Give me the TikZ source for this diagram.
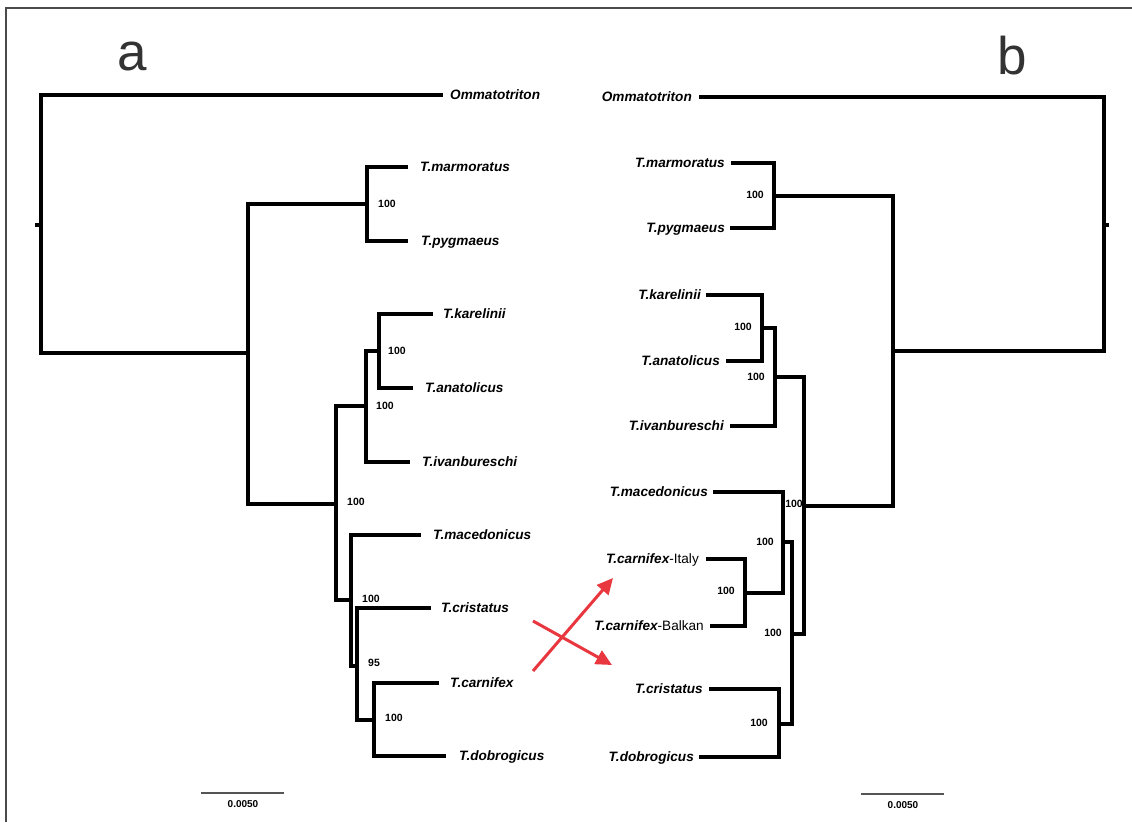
\documentclass[tikz,border=0pt]{standalone}
\usepackage{fontspec}
\setmainfont{Liberation Sans}
\usetikzlibrary{arrows.meta}
\definecolor{arrowred}{HTML}{E8373E}
\definecolor{framegray}{HTML}{4A4A4A}
\definecolor{lettergray}{HTML}{333333}
\definecolor{bargray}{HTML}{555555}
\begin{document}
\begin{tikzpicture}[x=1pt,y=-1pt,
  tree/.style={line width=3.8pt, line join=miter, black},
  taxon/.style={font=\fontsize{13.6}{16}\selectfont\bfseries\itshape, inner sep=0pt, text height=9.6pt, text depth=0pt},
  sup/.style={font=\fontsize{10.5}{12}\selectfont\bfseries, inner sep=0pt, text height=7.5pt, text depth=0pt},
  scalebar/.style={bargray, line width=1.5pt},
  scalelab/.style={font=\fontsize{10}{11}\selectfont\bfseries, inner sep=0pt, text height=7.2pt, text depth=0pt},
  panel/.style={font=\fontsize{53}{60}\selectfont, text=lettergray, inner sep=0pt, anchor=base west},
  redarrow/.style={arrowred, line width=3pt, -{Triangle[length=16pt,width=15pt]}}
]
\useasboundingbox (0,0) rectangle (1132,822);
\fill[white] (0,0) rectangle (1132,822);
% frame
\draw[framegray, line width=1.8pt] (6,822) -- (6,8) -- (1132,8);

% panel letters
\node[panel] (pa) at (117,70) {a};
\node[panel] (pb) at (997,74) {b};

% ---------------- tree a ----------------
\coordinate (aTick) at (35,225);
\coordinate (aR) at (41,225);
\coordinate (aOmm) at (443,95);
\coordinate (aN1) at (248,353);
\coordinate (aN2) at (367,204);
\coordinate (aMar) at (408,167);
\coordinate (aPyg) at (408,241);
\coordinate (aN3) at (336,504);
\coordinate (aN4) at (366,406);
\coordinate (aN6) at (379,351);
\coordinate (aKar) at (433,314);
\coordinate (aAna) at (413,388);
\coordinate (aIva) at (410,462);
\coordinate (aN5) at (351,600);
\coordinate (aMac) at (421,535);
\coordinate (aN7) at (357,666);
\coordinate (aCri) at (431,608);
\coordinate (aN8) at (374,720);
\coordinate (aCar) at (439,683);
\coordinate (aDob) at (446,756);

\draw[tree] (aTick) -- (aR);
\draw[tree] (aR) |- (aOmm);
\draw[tree] (aR) |- (aN1);
\draw[tree] (aN1) |- (aN2);
\draw[tree] (aN1) |- (aN3);
\draw[tree] (aN2) |- (aMar);
\draw[tree] (aN2) |- (aPyg);
\draw[tree] (aN3) |- (aN4);
\draw[tree] (aN3) |- (aN5);
\draw[tree] (aN4) |- (aN6);
\draw[tree] (aN4) |- (aIva);
\draw[tree] (aN6) |- (aKar);
\draw[tree] (aN6) |- (aAna);
\draw[tree] (aN5) |- (aMac);
\draw[tree] (aN5) |- (aN7);
\draw[tree] (aN7) |- (aCri);
\draw[tree] (aN7) |- (aN8);
\draw[tree] (aN8) |- (aCar);
\draw[tree] (aN8) |- (aDob);

\node[taxon, anchor=west] (laOmm) at (450,95) {Ommatotriton};
\node[taxon, anchor=west] (laMar) at (420,167) {T.marmoratus};
\node[taxon, anchor=west] (laPyg) at (421,241) {T.pygmaeus};
\node[taxon, anchor=west] (laKar) at (443,314) {T.karelinii};
\node[taxon, anchor=west] (laAna) at (425,388) {T.anatolicus};
\node[taxon, anchor=west] (laIva) at (422,462) {T.ivanbureschi};
\node[taxon, anchor=west] (laMac) at (433,535) {T.macedonicus};
\node[taxon, anchor=west] (laCri) at (441,608) {T.cristatus};
\node[taxon, anchor=west] (laCar) at (450,683) {T.carnifex};
\node[taxon, anchor=west] (laDob) at (459,756) {T.dobrogicus};

\node[sup, anchor=west] (saN2) at (378,204) {100};
\node[sup, anchor=west] (saN6) at (388,351) {100};
\node[sup, anchor=west] (saN4) at (376,406) {100};
\node[sup, anchor=west] (saN3) at (347,502) {100};
\node[sup, anchor=west] (saN5) at (362,599) {100};
\node[sup, anchor=west] (saN7) at (368,663) {95};
\node[sup, anchor=west] (saN8) at (385,718) {100};

% scale bar a
\coordinate (sa1) at (201,793);
\coordinate (sa2) at (284,793);
\draw[scalebar] (sa1) -- (sa2);
\node[scalelab] (sal) at (243,804) {0.0050};

% ---------------- tree b ----------------
\coordinate (bTick) at (1109,225);
\coordinate (bR) at (1104,225);
\coordinate (bOmm) at (699,97);
\coordinate (bN1) at (893,351);
\coordinate (bN2) at (774,196);
\coordinate (bMar) at (731,163);
\coordinate (bPyg) at (730,228);
\coordinate (bN3) at (804,506);
\coordinate (bN4) at (775,377);
\coordinate (bN6) at (762,328);
\coordinate (bKar) at (706,295);
\coordinate (bAna) at (726,361);
\coordinate (bIva) at (730,426);
\coordinate (bN5) at (792,634);
\coordinate (bN7) at (783,542);
\coordinate (bMac) at (713,492);
\coordinate (bN9) at (745,593);
\coordinate (bIta) at (706,559);
\coordinate (bBal) at (710,626);
\coordinate (bN8) at (779,724);
\coordinate (bCri) at (709,689);
\coordinate (bDob) at (699,757);

\draw[tree] (bTick) -- (bR);
\draw[tree] (bR) |- (bOmm);
\draw[tree] (bR) |- (bN1);
\draw[tree] (bN1) |- (bN2);
\draw[tree] (bN1) |- (bN3);
\draw[tree] (bN2) |- (bMar);
\draw[tree] (bN2) |- (bPyg);
\draw[tree] (bN3) |- (bN4);
\draw[tree] (bN3) |- (bN5);
\draw[tree] (bN4) |- (bN6);
\draw[tree] (bN4) |- (bIva);
\draw[tree] (bN6) |- (bKar);
\draw[tree] (bN6) |- (bAna);
\draw[tree] (bN5) |- (bN7);
\draw[tree] (bN5) |- (bN8);
\draw[tree] (bN7) |- (bMac);
\draw[tree] (bN7) |- (bN9);
\draw[tree] (bN9) |- (bIta);
\draw[tree] (bN9) |- (bBal);
\draw[tree] (bN8) |- (bCri);
\draw[tree] (bN8) |- (bDob);

\node[taxon, anchor=east] (lbOmm) at (692,97) {Ommatotriton};
\node[taxon, anchor=east] (lbMar) at (725,163) {T.marmoratus};
\node[taxon, anchor=east] (lbPyg) at (725,228) {T.pygmaeus};
\node[taxon, anchor=east] (lbKar) at (701,295) {T.karelinii};
\node[taxon, anchor=east] (lbAna) at (720,361) {T.anatolicus};
\node[taxon, anchor=east] (lbIva) at (724,426) {T.ivanbureschi};
\node[taxon, anchor=east] (lbMac) at (708,492) {T.macedonicus};
\node[taxon, anchor=east] (lbIta) at (699,559) {T.carnifex\upshape\mdseries -Italy};
\node[taxon, anchor=east] (lbBal) at (704,626) {T.carnifex\upshape\mdseries -Balkan};
\node[taxon, anchor=east] (lbCri) at (703,689) {T.cristatus};
\node[taxon, anchor=east] (lbDob) at (694,757) {T.dobrogicus};

\node[sup, anchor=east] (sbN2) at (764,195) {100};
\node[sup, anchor=east] (sbN6) at (752,327) {100};
\node[sup, anchor=east] (sbN4) at (765,377) {100};
\node[sup, anchor=east] (sbN3) at (803,504) {100};
\node[sup, anchor=east] (sbN7) at (774,542) {100};
\node[sup, anchor=east] (sbN9) at (735,591) {100};
\node[sup, anchor=east] (sbN5) at (782,633) {100};
\node[sup, anchor=east] (sbN8) at (768,723) {100};

% scale bar b
\coordinate (sb1) at (861,794);
\coordinate (sb2) at (944,794);
\draw[scalebar] (sb1) -- (sb2);
\node[scalelab] (sbl) at (903,805) {0.0050};

% red arrows
\coordinate (r1s) at (533,671);
\coordinate (r1e) at (613,578);
\coordinate (r2s) at (533,621);
\coordinate (r2e) at (612,665);
\draw[redarrow] (r1s) -- (r1e);
\draw[redarrow] (r2s) -- (r2e);
\end{tikzpicture}
\end{document}
